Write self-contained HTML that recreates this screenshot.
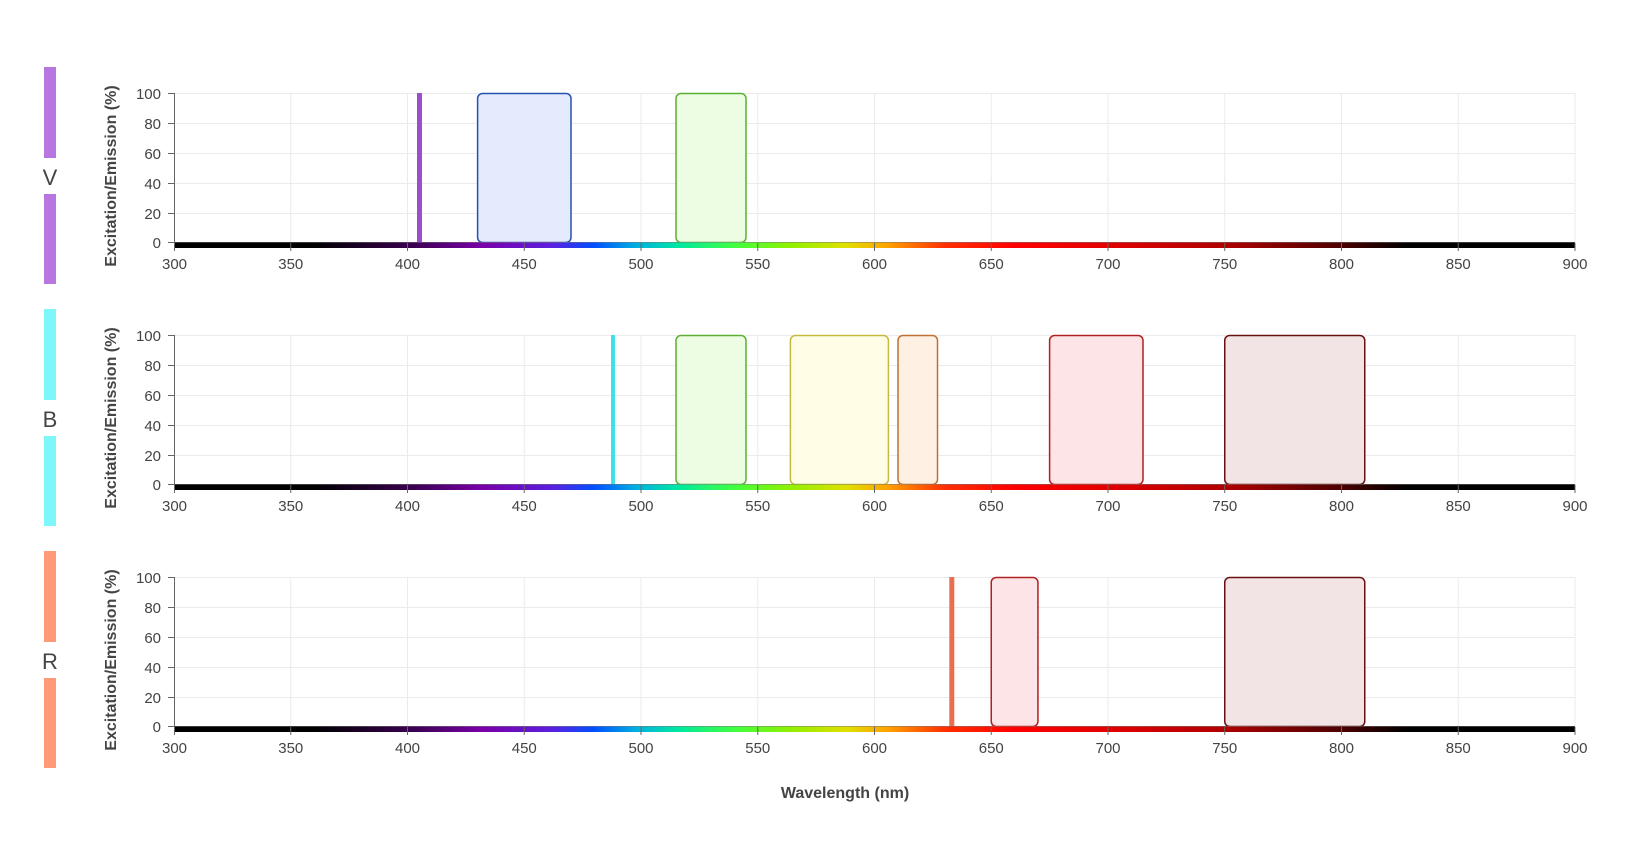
<!DOCTYPE html>
<html><head><meta charset="utf-8"><style>
html,body{margin:0;padding:0;background:#fff;}
svg{display:block;font-family:"Liberation Sans",Arial,sans-serif;}
.yt{font-size:15px;fill:#444;text-anchor:end;}
.xt{font-size:15px;fill:#444;text-anchor:middle;}
.lab{font-size:22px;fill:#444;text-anchor:middle;}
.at{font-size:16px;font-weight:bold;fill:#444;}
</style></head><body>
<svg width="1632" height="866" viewBox="0 0 1632 866">
<defs>
<linearGradient id="spec" x1="174" x2="1575" gradientUnits="userSpaceOnUse">
<stop offset="0" stop-color="#000"/>
<stop offset="0.1" stop-color="#000"/>
<stop offset="0.17" stop-color="#3a0050"/>
<stop offset="0.22" stop-color="#7a00a8"/>
<stop offset="0.27" stop-color="#5a20e0"/>
<stop offset="0.3" stop-color="#0050ff"/>
<stop offset="0.33" stop-color="#00b0e0"/>
<stop offset="0.36" stop-color="#00e8a0"/>
<stop offset="0.4" stop-color="#40ff40"/>
<stop offset="0.44" stop-color="#90f000"/>
<stop offset="0.48" stop-color="#e0e000"/>
<stop offset="0.51" stop-color="#ffa000"/>
<stop offset="0.55" stop-color="#ff3000"/>
<stop offset="0.6" stop-color="#ff0000"/>
<stop offset="0.67" stop-color="#e00000"/>
<stop offset="0.75" stop-color="#b00000"/>
<stop offset="0.83" stop-color="#500000"/>
<stop offset="0.88" stop-color="#000"/>
<stop offset="1" stop-color="#000"/>
</linearGradient>
<g id="grid" stroke="#ebebeb" stroke-width="1">
<line x1="174" x2="1575" y1="93.5" y2="93.5"/>
<line x1="174" x2="1575" y1="123.5" y2="123.5"/>
<line x1="174" x2="1575" y1="153.5" y2="153.5"/>
<line x1="174" x2="1575" y1="183.5" y2="183.5"/>
<line x1="174" x2="1575" y1="213.5" y2="213.5"/>
<line x1="290.75" x2="290.75" y1="93" y2="243"/>
<line x1="407.5" x2="407.5" y1="93" y2="243"/>
<line x1="524.25" x2="524.25" y1="93" y2="243"/>
<line x1="641" x2="641" y1="93" y2="243"/>
<line x1="757.75" x2="757.75" y1="93" y2="243"/>
<line x1="874.5" x2="874.5" y1="93" y2="243"/>
<line x1="991.25" x2="991.25" y1="93" y2="243"/>
<line x1="1108" x2="1108" y1="93" y2="243"/>
<line x1="1224.75" x2="1224.75" y1="93" y2="243"/>
<line x1="1341.5" x2="1341.5" y1="93" y2="243"/>
<line x1="1458.25" x2="1458.25" y1="93" y2="243"/>
<line x1="1575" x2="1575" y1="93" y2="243"/>
</g>
<g id="axes" stroke="#666" stroke-width="1">
<line x1="174.5" x2="174.5" y1="93" y2="243"/>
<line x1="168" x2="174" y1="93.5" y2="93.5"/>
<line x1="168" x2="174" y1="123.5" y2="123.5"/>
<line x1="168" x2="174" y1="153.5" y2="153.5"/>
<line x1="168" x2="174" y1="183.5" y2="183.5"/>
<line x1="168" x2="174" y1="213.5" y2="213.5"/>
<line x1="168" x2="174" y1="242.5" y2="242.5"/>
<line x1="174.5" x2="174.5" y1="243" y2="251"/>
<line x1="290.75" x2="290.75" y1="243" y2="251"/>
<line x1="407.5" x2="407.5" y1="243" y2="251"/>
<line x1="524.25" x2="524.25" y1="243" y2="251"/>
<line x1="641" x2="641" y1="243" y2="251"/>
<line x1="757.75" x2="757.75" y1="243" y2="251"/>
<line x1="874.5" x2="874.5" y1="243" y2="251"/>
<line x1="991.25" x2="991.25" y1="243" y2="251"/>
<line x1="1108" x2="1108" y1="243" y2="251"/>
<line x1="1224.75" x2="1224.75" y1="243" y2="251"/>
<line x1="1341.5" x2="1341.5" y1="243" y2="251"/>
<line x1="1458.25" x2="1458.25" y1="243" y2="251"/>
<line x1="1575" x2="1575" y1="243" y2="251"/>
</g>
<g id="specbar"><rect x="174" y="242" width="1401" height="6" fill="url(#spec)"/><rect x="174" y="242" width="1401" height="1" fill="#777" opacity="0.5"/></g>
</defs>

<!-- Panel 1 -->
<g transform="translate(0,0)">
<use href="#grid"/>
<rect x="44" y="67" width="12" height="91" fill="#b877e0"/>
<rect x="44" y="194" width="12" height="90" fill="#b877e0"/>
<text class="lab" x="50" y="185">V</text>
<rect x="417" y="93" width="5" height="150" fill="#9b4fcf"/>
<rect x="477.6" y="93.5" width="93.4" height="149" rx="5" fill="#e4ebfd" stroke="#2850b0" stroke-width="1.5"/>
<rect x="676" y="93.5" width="70" height="149" rx="5" fill="#edfde4" stroke="#5cb030" stroke-width="1.5"/>
<use href="#specbar"/>
<use href="#axes"/>
<text class="yt" x="161" y="99">100</text><text class="yt" x="161" y="129">80</text><text class="yt" x="161" y="159">60</text><text class="yt" x="161" y="189">40</text><text class="yt" x="161" y="219">20</text><text class="yt" x="161" y="248">0</text>
<text class="xt" x="174.5" y="269">300</text><text class="xt" x="290.75" y="269">350</text><text class="xt" x="407.5" y="269">400</text><text class="xt" x="524.25" y="269">450</text><text class="xt" x="641" y="269">500</text><text class="xt" x="757.75" y="269">550</text><text class="xt" x="874.5" y="269">600</text><text class="xt" x="991.25" y="269">650</text><text class="xt" x="1108" y="269">700</text><text class="xt" x="1224.75" y="269">750</text><text class="xt" x="1341.5" y="269">800</text><text class="xt" x="1458.25" y="269">850</text><text class="xt" x="1575" y="269">900</text>
<text class="at" transform="translate(116,176) rotate(-90)" text-anchor="middle">Excitation/Emission (%)</text>
</g>

<!-- Panel 2 -->
<g transform="translate(0,242)">
<use href="#grid"/>
<rect x="44" y="67" width="12" height="91" fill="#7ef7fb"/>
<rect x="44" y="194" width="12" height="90" fill="#7ef7fb"/>
<text class="lab" x="50" y="185">B</text>
<rect x="611" y="93" width="4" height="150" fill="#3ee0ea"/>
<rect x="676" y="93.5" width="70" height="149" rx="5" fill="#edfde4" stroke="#5cb030" stroke-width="1.5"/>
<rect x="790.4" y="93.5" width="98" height="149" rx="5" fill="#fffde6" stroke="#c8b840" stroke-width="1.5"/>
<rect x="898" y="93.5" width="39.5" height="149" rx="5" fill="#fff0e4" stroke="#c07030" stroke-width="1.5"/>
<rect x="1049.6" y="93.5" width="93.4" height="149" rx="5" fill="#fde4e6" stroke="#b02020" stroke-width="1.5"/>
<rect x="1224.75" y="93.5" width="140" height="149" rx="5" fill="#f2e4e4" stroke="#6a1010" stroke-width="1.5"/>
<use href="#specbar"/>
<use href="#axes"/>
<text class="yt" x="161" y="99">100</text><text class="yt" x="161" y="129">80</text><text class="yt" x="161" y="159">60</text><text class="yt" x="161" y="189">40</text><text class="yt" x="161" y="219">20</text><text class="yt" x="161" y="248">0</text>
<text class="xt" x="174.5" y="269">300</text><text class="xt" x="290.75" y="269">350</text><text class="xt" x="407.5" y="269">400</text><text class="xt" x="524.25" y="269">450</text><text class="xt" x="641" y="269">500</text><text class="xt" x="757.75" y="269">550</text><text class="xt" x="874.5" y="269">600</text><text class="xt" x="991.25" y="269">650</text><text class="xt" x="1108" y="269">700</text><text class="xt" x="1224.75" y="269">750</text><text class="xt" x="1341.5" y="269">800</text><text class="xt" x="1458.25" y="269">850</text><text class="xt" x="1575" y="269">900</text>
<text class="at" transform="translate(116,176) rotate(-90)" text-anchor="middle">Excitation/Emission (%)</text>
</g>

<!-- Panel 3 -->
<g transform="translate(0,484)">
<use href="#grid"/>
<rect x="44" y="67" width="12" height="91" fill="#ff9a78"/>
<rect x="44" y="194" width="12" height="90" fill="#ff9a78"/>
<text class="lab" x="50" y="185">R</text>
<rect x="949.3" y="93" width="5" height="150" fill="#e8704e"/>
<rect x="991.25" y="93.5" width="46.7" height="149" rx="5" fill="#fde4e6" stroke="#b02020" stroke-width="1.5"/>
<rect x="1224.75" y="93.5" width="140" height="149" rx="5" fill="#f2e4e4" stroke="#6a1010" stroke-width="1.5"/>
<use href="#specbar"/>
<use href="#axes"/>
<text class="yt" x="161" y="99">100</text><text class="yt" x="161" y="129">80</text><text class="yt" x="161" y="159">60</text><text class="yt" x="161" y="189">40</text><text class="yt" x="161" y="219">20</text><text class="yt" x="161" y="248">0</text>
<text class="xt" x="174.5" y="269">300</text><text class="xt" x="290.75" y="269">350</text><text class="xt" x="407.5" y="269">400</text><text class="xt" x="524.25" y="269">450</text><text class="xt" x="641" y="269">500</text><text class="xt" x="757.75" y="269">550</text><text class="xt" x="874.5" y="269">600</text><text class="xt" x="991.25" y="269">650</text><text class="xt" x="1108" y="269">700</text><text class="xt" x="1224.75" y="269">750</text><text class="xt" x="1341.5" y="269">800</text><text class="xt" x="1458.25" y="269">850</text><text class="xt" x="1575" y="269">900</text>
<text class="at" transform="translate(116,176) rotate(-90)" text-anchor="middle">Excitation/Emission (%)</text>
</g>

<text class="at" x="845" y="798" text-anchor="middle">Wavelength (nm)</text>
</svg>
</body></html>
